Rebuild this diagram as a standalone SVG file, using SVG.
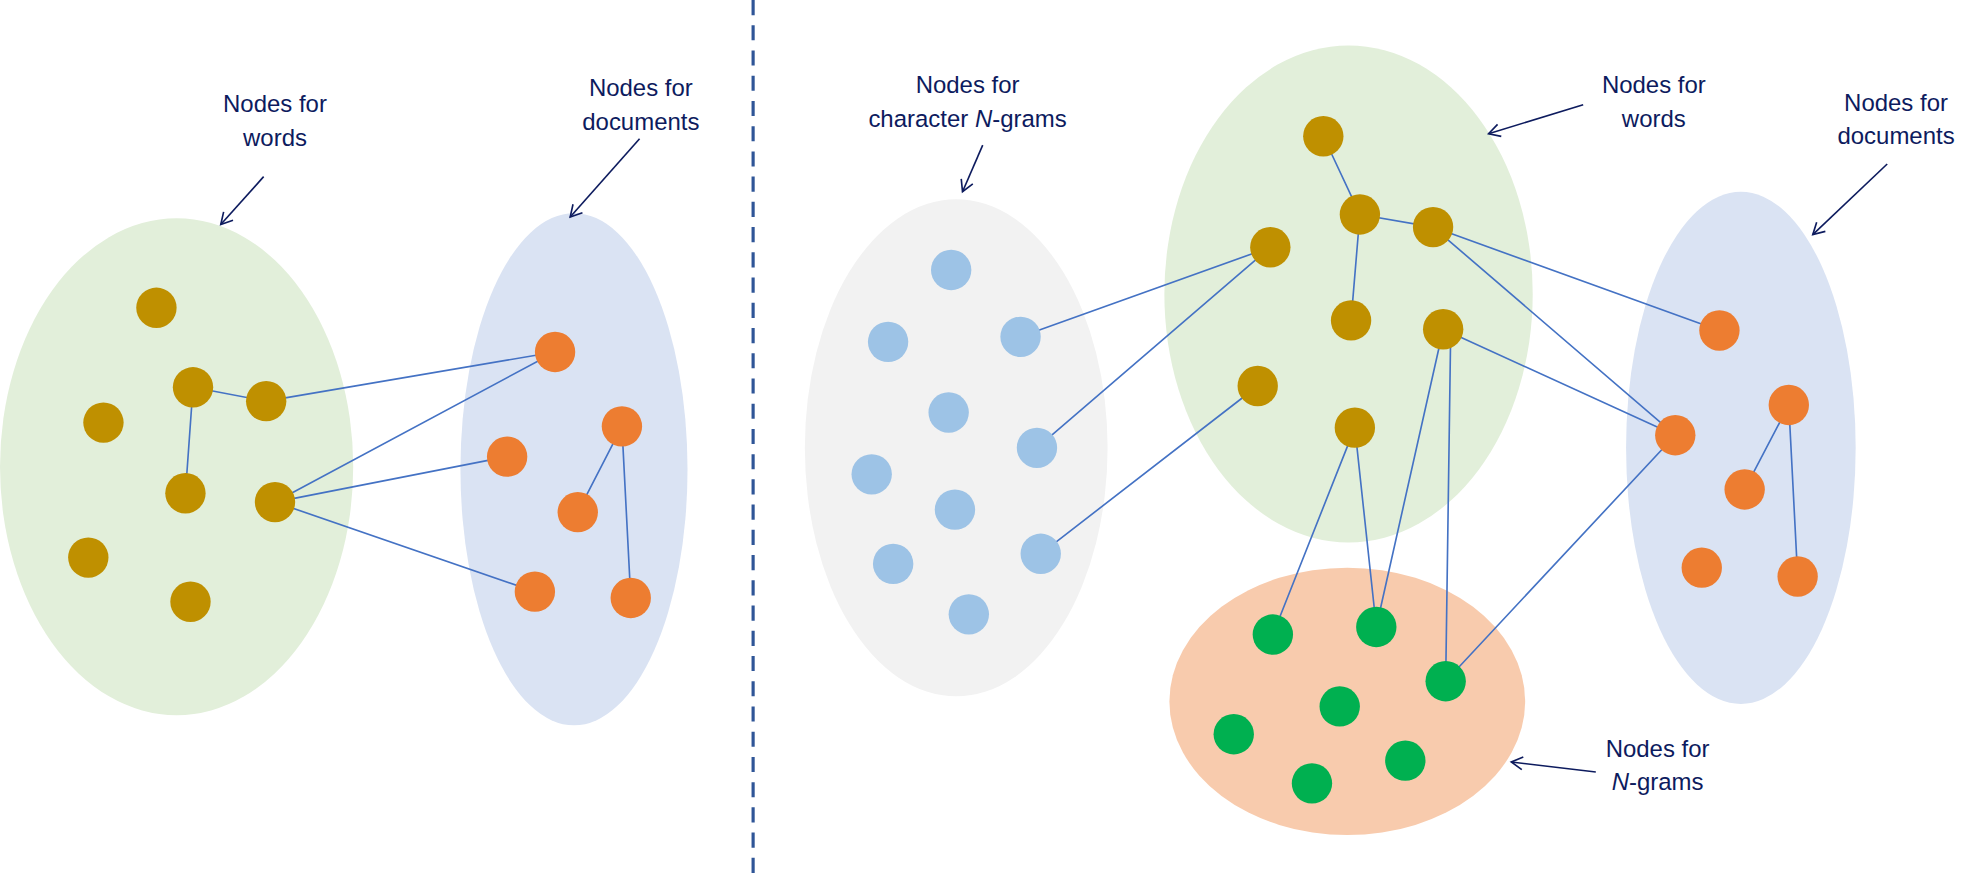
<svg xmlns="http://www.w3.org/2000/svg" width="1978" height="876" viewBox="0 0 1978 876">
<style>
.lbl{font-family:"Liberation Sans",Arial,sans-serif;font-size:19px;fill:#0D1B5E;text-anchor:middle}
.e{stroke:#4472C4;stroke-width:1.3;fill:none}
.a{stroke:#0D1B5E;stroke-width:1.3;fill:none;marker-end:url(#ah)}
.w{fill:#BF9000}.d{fill:#ED7D31}.c{fill:#9DC3E6}.n{fill:#00B050}
</style>
<defs><marker id="ah" markerWidth="12" markerHeight="12" refX="10" refY="6" orient="auto" markerUnits="userSpaceOnUse"><path d="M1,1 L10,6 L1,11" fill="none" stroke="#0D1B5E" stroke-width="1.3"/></marker></defs>
<rect width="1978" height="876" fill="#fff"/>
<g transform="scale(1.2615)">
<g id="groups">
<ellipse cx="140" cy="370" rx="140" ry="197" fill="#E2EFDA"/>
<ellipse cx="455" cy="372" rx="90" ry="203" fill="#DAE3F3"/>
<ellipse cx="758" cy="355" rx="120" ry="197" fill="#F2F2F2"/>
<ellipse cx="1069" cy="233" rx="146" ry="197" fill="#E2EFDA"/>
<ellipse cx="1380" cy="355" rx="91" ry="203" fill="#DAE3F3"/>
<ellipse cx="1068" cy="556" rx="141" ry="106" fill="#F8CBAD"/>
</g>
<line x1="597" y1="0" x2="597" y2="692" stroke="#2F5597" stroke-width="2.5" stroke-dasharray="12,8"/>
<g id="connectors">
<path class="e" d="M153,307L211,318M153,307L147,391M211,318L440,279M218,398L440,279M218,398L402,362M218,398L424,469M493,338L458,406M493,338L500,474"/>
<path class="e" d="M1049,108L1078,170M1078,170L1071,254M1078,170L1136,180M1136,180L1363,262M1136,180L1328,345M1144,261L1328,345M1007,196L809,267M1007,196L822,355M997,306L825,439M1074,339L1009,503M1074,339L1091,497M1144,261L1091,497M1150,261L1146,540M1328,345L1146,540M1418,321L1383,388M1418,321L1425,457"/>
<path class="a" d="M209,140L175,178"/>
<path class="a" d="M507,110L452,172"/>
<path class="a" d="M779,115L763,152"/>
<path class="a" d="M1255,83L1180,106"/>
<path class="a" d="M1496,130L1437,186"/>
<path class="a" d="M1265,612L1198,604"/>
</g>
<g id="word-nodes-left" class="w">
<circle cx="124" cy="244" r="16"/><circle cx="82" cy="335" r="16"/><circle cx="153" cy="307" r="16"/><circle cx="211" cy="318" r="16"/><circle cx="147" cy="391" r="16"/><circle cx="218" cy="398" r="16"/><circle cx="70" cy="442" r="16"/><circle cx="151" cy="477" r="16"/>
</g>
<g id="doc-nodes-left" class="d">
<circle cx="440" cy="279" r="16"/><circle cx="402" cy="362" r="16"/><circle cx="493" cy="338" r="16"/><circle cx="458" cy="406" r="16"/><circle cx="424" cy="469" r="16"/><circle cx="500" cy="474" r="16"/>
</g>
<g id="char-nodes" class="c">
<circle cx="754" cy="214" r="16"/><circle cx="704" cy="271" r="16"/><circle cx="809" cy="267" r="16"/><circle cx="752" cy="327" r="16"/><circle cx="691" cy="376" r="16"/><circle cx="822" cy="355" r="16"/><circle cx="757" cy="404" r="16"/><circle cx="708" cy="447" r="16"/><circle cx="825" cy="439" r="16"/><circle cx="768" cy="487" r="16"/>
</g>
<g id="word-nodes-right" class="w">
<circle cx="1049" cy="108" r="16"/><circle cx="1078" cy="170" r="16"/><circle cx="1136" cy="180" r="16"/><circle cx="1007" cy="196" r="16"/><circle cx="1071" cy="254" r="16"/><circle cx="1144" cy="261" r="16"/><circle cx="997" cy="306" r="16"/><circle cx="1074" cy="339" r="16"/>
</g>
<g id="doc-nodes-right" class="d">
<circle cx="1363" cy="262" r="16"/><circle cx="1418" cy="321" r="16"/><circle cx="1328" cy="345" r="16"/><circle cx="1383" cy="388" r="16"/><circle cx="1349" cy="450" r="16"/><circle cx="1425" cy="457" r="16"/>
</g>
<g id="ngram-nodes" class="n">
<circle cx="1009" cy="503" r="16"/><circle cx="1091" cy="497" r="16"/><circle cx="1146" cy="540" r="16"/><circle cx="1062" cy="560" r="16"/><circle cx="978" cy="582" r="16"/><circle cx="1114" cy="603" r="16"/><circle cx="1040" cy="621" r="16"/>
</g>
<g id="labels" class="lbl">
<text x="218" y="89">Nodes for</text><text x="218" y="116">words</text>
<text x="508" y="76">Nodes for</text><text x="508" y="103">documents</text>
<text x="767" y="74">Nodes for</text><text x="767" y="101">character <tspan font-style="italic">N</tspan>-grams</text>
<text x="1311" y="74">Nodes for</text><text x="1311" y="101">words</text>
<text x="1503" y="88">Nodes for</text><text x="1503" y="114">documents</text>
<text x="1314" y="600">Nodes for</text><text x="1314" y="626"><tspan font-style="italic">N</tspan>-grams</text>
</g>
</g>
</svg>
